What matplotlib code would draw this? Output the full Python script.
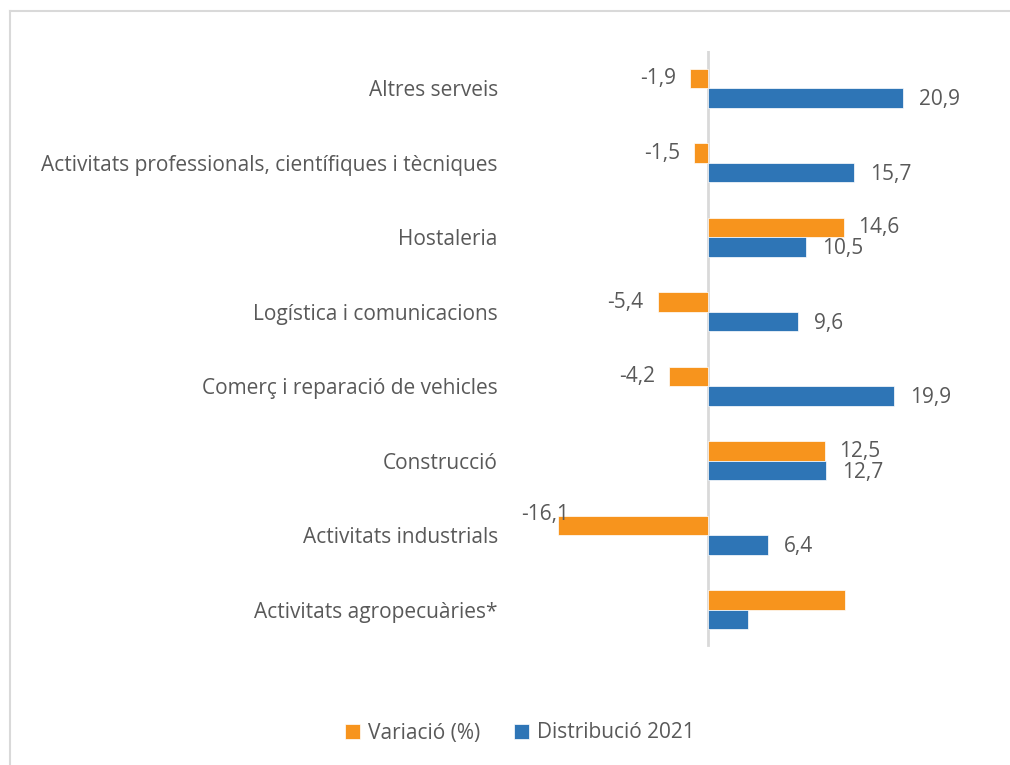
import matplotlib.pyplot as plt
from matplotlib.lines import Line2D
import numpy as np

plt.rcParams['font.family'] = ['Open Sans', 'DejaVu Sans']

# categories, top to bottom
categories = [
    "Altres serveis",
    "Activitats professionals, científiques i tècniques",
    "Hostaleria",
    "Logística i comunicacions",
    "Comerç i reparació de vehicles",
    "Construcció",
    "Activitats industrials",
    "Activitats agropecuàries*",
]
variacio = [-1.9, -1.5, 14.6, -5.4, -4.2, 12.5, -16.1, 14.7]
distribucio = [20.9, 15.7, 10.5, 9.6, 19.9, 12.7, 6.4, 4.3]
# the last category has no data labels in the original
show_label = [True, True, True, True, True, True, True, False]

orange = "#F7941D"
blue = "#2E75B6"
text_col = "#595959"
fs = 15

W, H = 1010, 765
fig = plt.figure(figsize=(W / 100, H / 100), dpi=100)

# axes placed in pixel terms: zero at x=708, 9.33 px per unit
x0, scale = 708, 9.33
xmin, xmax = -20, 30
left = x0 + xmin * scale
right = x0 + xmax * scale
top, bottom = 51, 647
ax = fig.add_axes([left / W, 1 - bottom / H, (right - left) / W, (bottom - top) / H])

y = np.arange(len(categories))
h = 0.26
bars_o = ax.barh(y - h / 2, variacio, height=h, color=orange, edgecolor="white", linewidth=0.5,
                 label="Variació (%)", zorder=2)
bars_b = ax.barh(y + h / 2, distribucio, height=h, color=blue, edgecolor="white", linewidth=0.5,
                 label="Distribució 2021", zorder=2)

ax.set_xlim(xmin, xmax)
ax.set_ylim(len(categories) - 0.5, -0.5)
ax.axvline(0, ymin=(bottom - 645) / (bottom - top), ymax=1, color="#D9D9D9", linewidth=2, zorder=1)

ax.set_yticks(y)
ax.set_yticklabels(categories, fontsize=fs, color=text_col)
ax.tick_params(axis="y", length=0, pad=17)
ax.set_xticks([])
for s in ax.spines.values():
    s.set_visible(False)


def fmt(v):
    return f"{v:.1f}".replace(".", ",")


for v, yy, ok in zip(variacio, y - h / 2, show_label):
    if not ok:
        continue
    if v == min(variacio):
        ax.annotate(fmt(v), (v, yy), xytext=(11, 11), textcoords="offset pixels",
                    ha="right", va="center", fontsize=fs, color=text_col)
    elif v < 0:
        ax.annotate(fmt(v), (v, yy), xytext=(-14, 0), textcoords="offset pixels",
                    ha="right", va="center", fontsize=fs, color=text_col)
    else:
        ax.annotate(fmt(v), (v, yy), xytext=(14, 0), textcoords="offset pixels",
                    ha="left", va="center", fontsize=fs, color=text_col)

for v, yy, ok in zip(distribucio, y + h / 2, show_label):
    if not ok:
        continue
    ax.annotate(fmt(v), (v, yy), xytext=(16, -2), textcoords="offset pixels",
                ha="left", va="center", fontsize=fs, color=text_col)

fig.legend(handles=[bars_o, bars_b], loc="center", bbox_to_anchor=(520 / W, 1 - 733 / H),
           ncol=2, frameon=False, fontsize=fs, labelcolor=text_col,
           handlelength=0.7, handleheight=0.7, handletextpad=0.4, columnspacing=1.6)

# outer chart border (only top and left visible in crop)
fig.add_artist(Line2D([10 / W, 1], [1 - 11 / H, 1 - 11 / H], color="#D9D9D9", linewidth=1.5,
                      transform=fig.transFigure))
fig.add_artist(Line2D([10 / W, 10 / W], [1 - 11 / H, 0], color="#D9D9D9", linewidth=1.5,
                      transform=fig.transFigure))

fig.savefig("out.png", dpi=100)
